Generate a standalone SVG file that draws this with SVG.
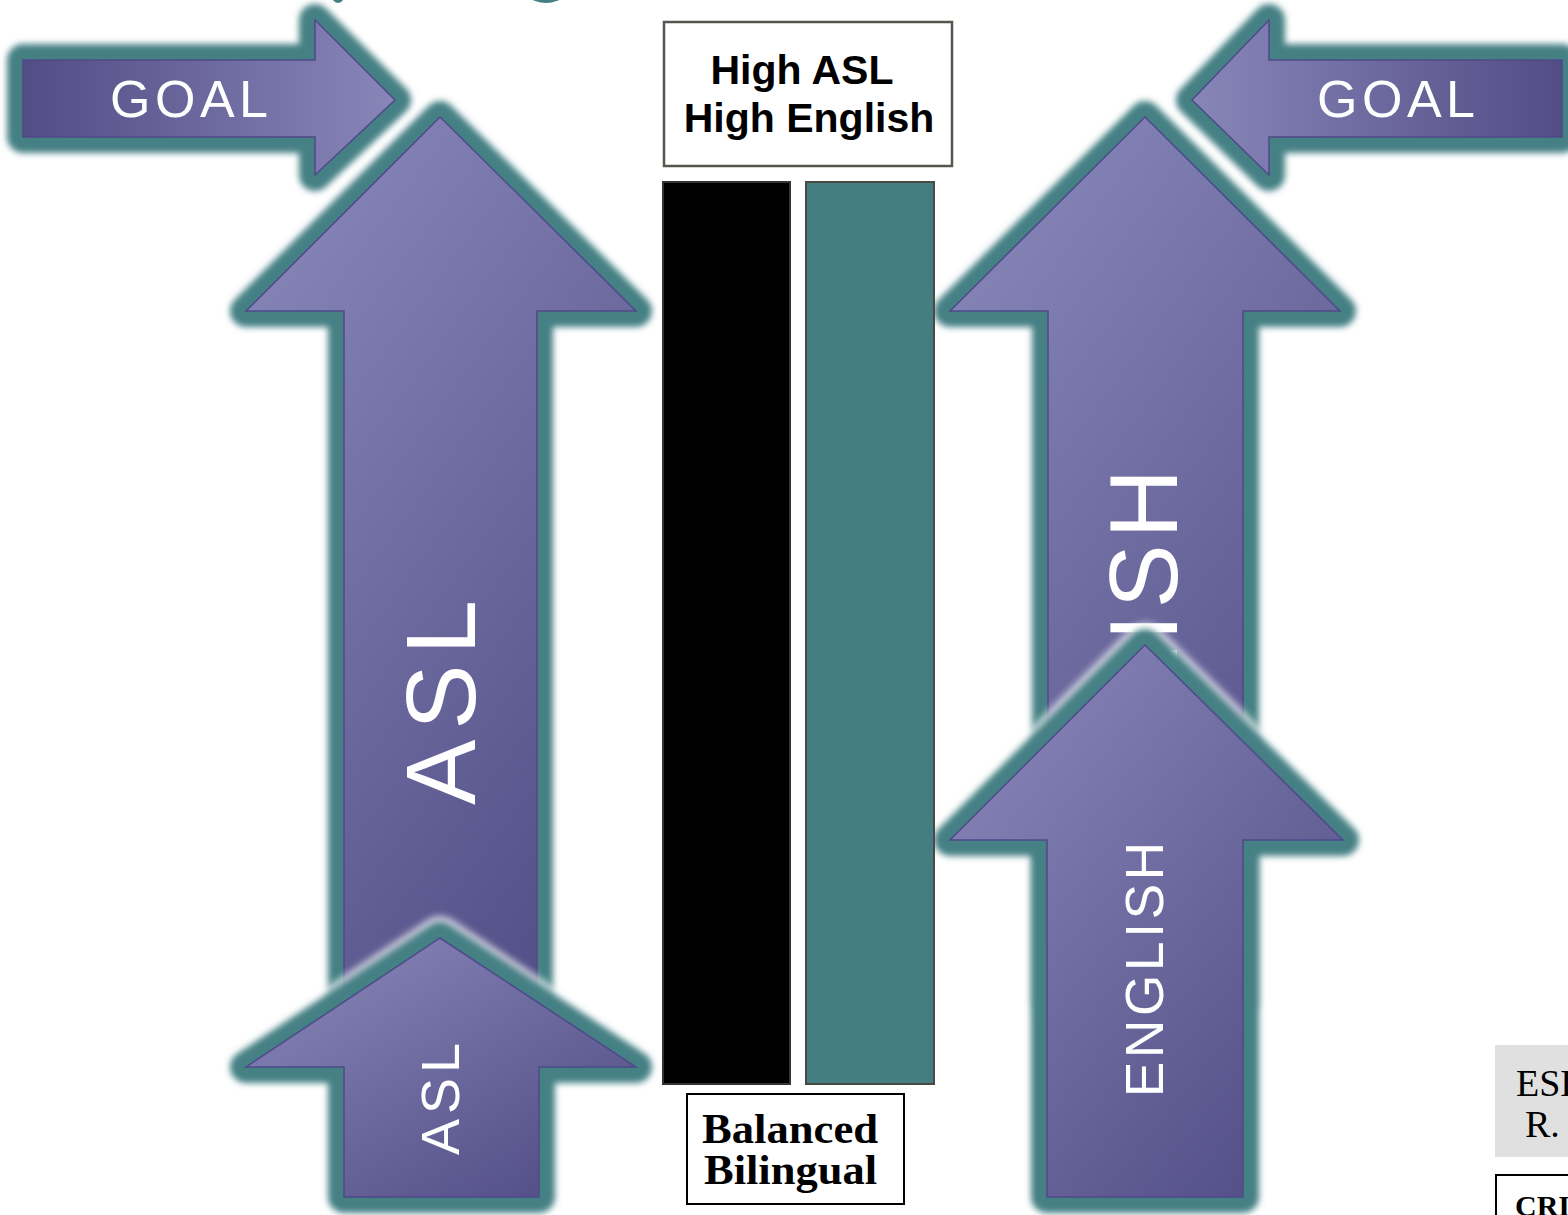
<svg xmlns="http://www.w3.org/2000/svg" xmlns:xlink="http://www.w3.org/1999/xlink" width="1568" height="1215" viewBox="0 0 1568 1215">
<style>
.halo{fill:none;stroke:#ffffff;stroke-width:44;stroke-linejoin:round;opacity:0.7;filter:url(#blurH)}
.glow{fill:none;stroke:#458084;stroke-width:32;stroke-linejoin:round;filter:url(#blurG)}
.shape{stroke:#4e4a8a;stroke-width:1.5}
.lbl{fill:#ffffff;font-family:"Liberation Sans",Arial,sans-serif}
.box{fill:#ffffff}
</style>
<defs>
<filter id="blurG" x="-20%" y="-20%" width="140%" height="140%"><feGaussianBlur stdDeviation="3"/></filter>
<filter id="blurH" x="-20%" y="-20%" width="140%" height="140%"><feGaussianBlur stdDeviation="3.5"/></filter>
<linearGradient id="gUp" x1="0.2" y1="0" x2="0.8" y2="1">
<stop offset="0" stop-color="#8786b9"/><stop offset="1" stop-color="#514d85"/>
</linearGradient>
<linearGradient id="gUpS" x1="0.1" y1="0.1" x2="0.9" y2="1">
<stop offset="0" stop-color="#8583b6"/><stop offset="1" stop-color="#504c84"/>
</linearGradient>
<linearGradient id="gR" x1="0" y1="0" x2="1" y2="0">
<stop offset="0" stop-color="#524d85"/><stop offset="1" stop-color="#8886b9"/>
</linearGradient>
<linearGradient id="gL" x1="1" y1="0" x2="0" y2="0">
<stop offset="0" stop-color="#524d85"/><stop offset="1" stop-color="#8886b9"/>
</linearGradient>
<path id="pGoalL" d="M23,60 H315 V20 L395,100 L315,175 V137 H23 Z"/>
<path id="pGoalR" d="M1562,60 H1269 V20 L1192,100 L1269,175 V137 H1562 Z"/>
<path id="pAslBig" d="M440,117 L636,311 H537 V1000 H344 V311 H246 Z"/>
<path id="pAslSmall" d="M440,938 L636,1067 H539 V1197 H344 V1067 H246 Z"/>
<path id="pEngBig" d="M1145,117 L1340,311 H1243 V1000 H1048 V311 H950 Z"/>
<path id="pEngSmall" d="M1145,645 L1343,840 H1243 V1197 H1047 V840 H950 Z"/>
</defs>
<rect width="1568" height="1215" fill="#ffffff"/>
<g id="top-fragments">
<ellipse cx="546" cy="-22" rx="28" ry="25" fill="#458084"/>
<ellipse cx="338" cy="-4" rx="6" ry="7" fill="#458084"/>
</g>
<g id="goal-left">
<use href="#pGoalL" class="halo"/><use href="#pGoalL" class="glow"/>
<use href="#pGoalL" class="shape" fill="url(#gR)"/>
<text class="lbl" x="110" y="117" font-size="52" textLength="158" lengthAdjust="spacing">GOAL</text>
</g>
<g id="goal-right">
<use href="#pGoalR" class="halo"/><use href="#pGoalR" class="glow"/>
<use href="#pGoalR" class="shape" fill="url(#gL)"/>
<text class="lbl" x="1317" y="117" font-size="52" textLength="158" lengthAdjust="spacing">GOAL</text>
</g>
<g id="asl-big">
<use href="#pAslBig" class="halo"/><use href="#pAslBig" class="glow"/>
<use href="#pAslBig" class="shape" fill="url(#gUp)"/>
<text class="lbl" transform="translate(475,805) rotate(-90)" font-size="98" textLength="205" lengthAdjust="spacing">ASL</text>
</g>
<g id="asl-small">
<use href="#pAslSmall" class="halo"/><use href="#pAslSmall" class="glow"/>
<use href="#pAslSmall" class="shape" fill="url(#gUpS)"/>
<text class="lbl" transform="translate(459,1155) rotate(-90)" font-size="54" textLength="112" lengthAdjust="spacing">ASL</text>
</g>
<g id="english-big">
<use href="#pEngBig" class="halo"/><use href="#pEngBig" class="glow"/>
<use href="#pEngBig" class="shape" fill="url(#gUp)"/>
<text class="lbl" transform="translate(1177,926) rotate(-90)" font-size="96" textLength="457" lengthAdjust="spacing">ENGLISH</text>
</g>
<g id="english-small">
<use href="#pEngSmall" class="halo"/><use href="#pEngSmall" class="glow"/>
<use href="#pEngSmall" class="shape" fill="url(#gUpS)"/>
<text class="lbl" transform="translate(1163,1097) rotate(-90)" font-size="53" textLength="255" lengthAdjust="spacing">ENGLISH</text>
</g>
<g id="bar-asl"><rect x="663" y="182" width="127" height="902" fill="#000000" stroke="#35352f" stroke-width="2"/></g>
<g id="bar-english"><rect x="806" y="182" width="128" height="902" fill="#447e83" stroke="#4a4a42" stroke-width="2"/></g>
<g id="high-box">
<rect class="box" x="664" y="22" width="288" height="144" stroke="#58554f" stroke-width="2.5"/>
<text x="802" y="84" font-family="'Liberation Sans',Arial,sans-serif" font-weight="bold" font-size="41" text-anchor="middle">High ASL</text>
<text x="809" y="132" font-family="'Liberation Sans',Arial,sans-serif" font-weight="bold" font-size="41" text-anchor="middle">High English</text>
</g>
<g id="balanced-box">
<rect class="box" x="687" y="1094" width="217" height="110" stroke="#000000" stroke-width="2"/>
<text x="702" y="1143" font-family="'Liberation Serif','Times New Roman',serif" font-weight="bold" font-size="42" textLength="176" lengthAdjust="spacingAndGlyphs">Balanced</text>
<text x="704" y="1184" font-family="'Liberation Serif','Times New Roman',serif" font-weight="bold" font-size="42" textLength="173" lengthAdjust="spacingAndGlyphs">Bilingual</text>
</g>
<g id="corner-note">
<rect x="1495" y="1045" width="80" height="112" fill="#e0e0e0"/>
<text x="1516" y="1096" font-family="'Liberation Serif','Times New Roman',serif" font-size="38">ESL</text>
<text x="1525" y="1137" font-family="'Liberation Serif','Times New Roman',serif" font-size="38">R.</text>
</g>
<g id="corner-box">
<rect x="1496" y="1175" width="80" height="60" fill="#ffffff" stroke="#000000" stroke-width="2"/>
<text x="1515" y="1216" font-family="'Liberation Serif','Times New Roman',serif" font-weight="bold" font-size="30">CRI</text>
</g>
</svg>
